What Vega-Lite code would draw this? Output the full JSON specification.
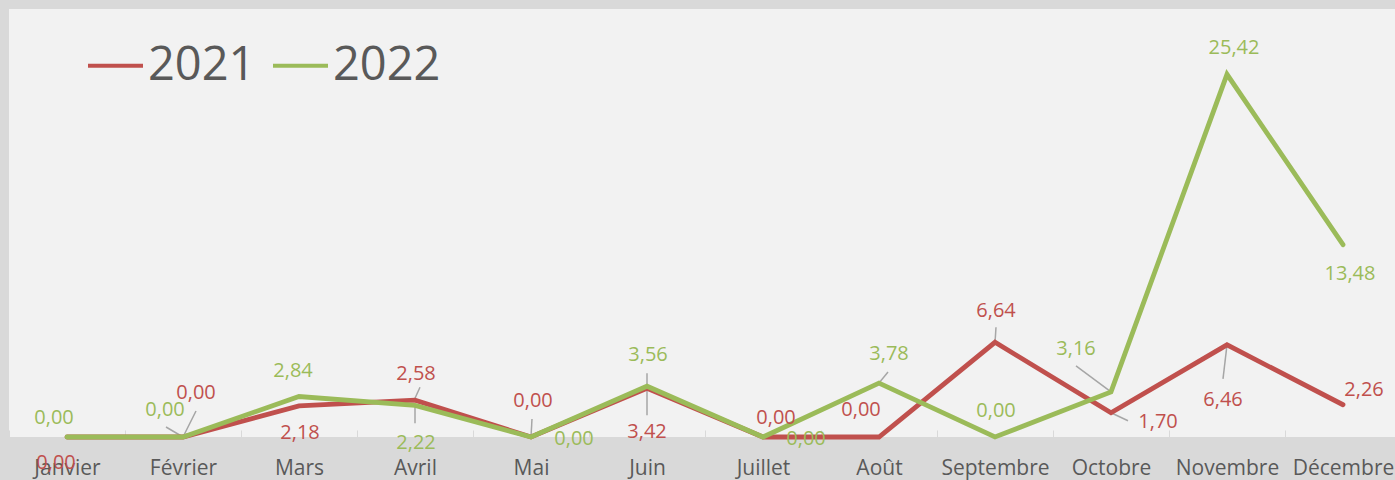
{
 "$schema": "https://vega.github.io/schema/vega-lite/v6.json",
 "width": 1392, "height": 428,
 "autosize": {"type": "none"},
 "padding": {"left": 9, "top": 9, "right": 0, "bottom": 43},
 "background": "#d9d9d9",
 "config": {
  "view": {"stroke": null, "fill": "#f2f2f2"},
  "locale": {"number": {"decimal": ",", "thousands": " ", "grouping": [3], "currency": ["", " €"]}}
 },
 "data": {"values": [
  {"m": "Janvier", "s": "2021", "v": 0}, {"m": "Février", "s": "2021", "v": 0},
  {"m": "Mars", "s": "2021", "v": 2.18}, {"m": "Avril", "s": "2021", "v": 2.58},
  {"m": "Mai", "s": "2021", "v": 0}, {"m": "Juin", "s": "2021", "v": 3.42},
  {"m": "Juillet", "s": "2021", "v": 0}, {"m": "Août", "s": "2021", "v": 0},
  {"m": "Septembre", "s": "2021", "v": 6.64}, {"m": "Octobre", "s": "2021", "v": 1.70},
  {"m": "Novembre", "s": "2021", "v": 6.46}, {"m": "Décembre", "s": "2021", "v": 2.26},
  {"m": "Janvier", "s": "2022", "v": 0}, {"m": "Février", "s": "2022", "v": 0},
  {"m": "Mars", "s": "2022", "v": 2.84}, {"m": "Avril", "s": "2022", "v": 2.22},
  {"m": "Mai", "s": "2022", "v": 0}, {"m": "Juin", "s": "2022", "v": 3.56},
  {"m": "Juillet", "s": "2022", "v": 0}, {"m": "Août", "s": "2022", "v": 3.78},
  {"m": "Septembre", "s": "2022", "v": 0}, {"m": "Octobre", "s": "2022", "v": 3.16},
  {"m": "Novembre", "s": "2022", "v": 25.42}, {"m": "Décembre", "s": "2022", "v": 13.48}
 ]},
 "encoding": {
  "x": {"field": "m", "type": "ordinal",
   "sort": ["Janvier","Février","Mars","Avril","Mai","Juin","Juillet","Août","Septembre","Octobre","Novembre","Décembre"],
   "scale": {"type": "band", "paddingInner": 0, "paddingOuter": 0},
   "axis": {"title": null, "domain": false, "tickBand": "extent", "tickColor": "#d9d9d9", "tickSize": -7, "tickWidth": 1,
    "labelAngle": 0, "labelFont": "Open Sans", "labelFontSize": 21, "labelColor": "#595959", "labelPadding": 27}},
  "y": {"field": "v", "type": "quantitative", "scale": {"domain": [0, 30], "nice": false}, "axis": null},
  "color": {"field": "s", "type": "nominal",
   "scale": {"domain": ["2021", "2022"], "range": ["#c0504d", "#9bbb59"]},
   "legend": {"orient": "none", "legendX": 77, "legendY": 27, "direction": "horizontal", "title": null,
    "symbolType": "stroke", "symbolSize": 3025, "symbolStrokeWidth": 4, "labelFont": "Open Sans",
    "labelFontSize": 47, "labelColor": "#595959", "columnPadding": 9, "labelOffset": 3}}
 },
 "layer": [
  {"mark": {"type": "rule", "strokeWidth": 1.5, "x2Offset": 13, "y2Offset": -26}, "transform": [{"filter": "datum.s=='2021' && datum.m=='Février'"}], "encoding": {"x2": {"field": "m"}, "y2": {"field": "v"}, "color": {"value": "#a6a6a6"}}},
  {"mark": {"type": "rule", "strokeWidth": 1.5, "x2Offset": -17, "y2Offset": -10}, "transform": [{"filter": "datum.s=='2022' && datum.m=='Février'"}], "encoding": {"x2": {"field": "m"}, "y2": {"field": "v"}, "color": {"value": "#a6a6a6"}}},
  {"mark": {"type": "rule", "strokeWidth": 1.5, "yOffset": -2, "x2Offset": 5, "y2Offset": -13}, "transform": [{"filter": "datum.s=='2021' && datum.m=='Avril'"}], "encoding": {"x2": {"field": "m"}, "y2": {"field": "v"}, "color": {"value": "#a6a6a6"}}},
  {"mark": {"type": "rule", "strokeWidth": 1.5, "x2Offset": 0, "y2Offset": 18}, "transform": [{"filter": "datum.s=='2022' && datum.m=='Avril'"}], "encoding": {"x2": {"field": "m"}, "y2": {"field": "v"}, "color": {"value": "#a6a6a6"}}},
  {"mark": {"type": "rule", "strokeWidth": 1.5, "x2Offset": 1, "y2Offset": -18}, "transform": [{"filter": "datum.s=='2021' && datum.m=='Mai'"}], "encoding": {"x2": {"field": "m"}, "y2": {"field": "v"}, "color": {"value": "#a6a6a6"}}},
  {"mark": {"type": "rule", "strokeWidth": 1.5, "x2Offset": 0, "y2Offset": 27}, "transform": [{"filter": "datum.s=='2021' && datum.m=='Juin'"}], "encoding": {"x2": {"field": "m"}, "y2": {"field": "v"}, "color": {"value": "#a6a6a6"}}},
  {"mark": {"type": "rule", "strokeWidth": 1.5, "x2Offset": 0, "y2Offset": -13}, "transform": [{"filter": "datum.s=='2022' && datum.m=='Juin'"}], "encoding": {"x2": {"field": "m"}, "y2": {"field": "v"}, "color": {"value": "#a6a6a6"}}},
  {"mark": {"type": "rule", "strokeWidth": 1.5, "x2Offset": 9, "y2Offset": -11}, "transform": [{"filter": "datum.s=='2022' && datum.m=='Août'"}], "encoding": {"x2": {"field": "m"}, "y2": {"field": "v"}, "color": {"value": "#a6a6a6"}}},
  {"mark": {"type": "rule", "strokeWidth": 1.5, "x2Offset": 1, "y2Offset": -15}, "transform": [{"filter": "datum.s=='2021' && datum.m=='Septembre'"}], "encoding": {"x2": {"field": "m"}, "y2": {"field": "v"}, "color": {"value": "#a6a6a6"}}},
  {"mark": {"type": "rule", "strokeWidth": 1.5, "x2Offset": -35, "y2Offset": -26}, "transform": [{"filter": "datum.s=='2022' && datum.m=='Octobre'"}], "encoding": {"x2": {"field": "m"}, "y2": {"field": "v"}, "color": {"value": "#a6a6a6"}}},
  {"mark": {"type": "rule", "strokeWidth": 1.5, "x2Offset": 17, "y2Offset": 8}, "transform": [{"filter": "datum.s=='2021' && datum.m=='Octobre'"}], "encoding": {"x2": {"field": "m"}, "y2": {"field": "v"}, "color": {"value": "#a6a6a6"}}},
  {"mark": {"type": "rule", "strokeWidth": 1.5, "x2Offset": -4, "y2Offset": 34}, "transform": [{"filter": "datum.s=='2021' && datum.m=='Novembre'"}], "encoding": {"x2": {"field": "m"}, "y2": {"field": "v"}, "color": {"value": "#a6a6a6"}}},
  {"mark": {"type": "line", "strokeWidth": 4.8, "strokeCap": "round"}},
  {"mark": {"type": "text", "dx": 1, "dy": -26, "baseline": "middle", "font": "Open Sans", "fontSize": 20}, "transform": [{"filter": "(datum.s=='2021' && datum.m=='Avril') || (datum.s=='2022' && datum.m=='Septembre')"}], "encoding": {"text": {"field": "v", "type": "quantitative", "format": ".2f"}}},
  {"mark": {"type": "text", "dx": 1, "dy": -31, "baseline": "middle", "font": "Open Sans", "fontSize": 20}, "transform": [{"filter": "(datum.s=='2021' && datum.m=='Septembre') || (datum.s=='2022' && datum.m=='Juin')"}], "encoding": {"text": {"field": "v", "type": "quantitative", "format": ".2f"}}},
  {"mark": {"type": "text", "dx": 1, "dy": 38, "baseline": "middle", "font": "Open Sans", "fontSize": 20}, "transform": [{"filter": "datum.s=='2022' && datum.m=='Avril'"}], "encoding": {"text": {"field": "v", "type": "quantitative", "format": ".2f"}}},
  {"mark": {"type": "text", "dx": 0, "dy": 44, "baseline": "middle", "font": "Open Sans", "fontSize": 20}, "transform": [{"filter": "datum.s=='2021' && datum.m=='Juin'"}], "encoding": {"text": {"field": "v", "type": "quantitative", "format": ".2f"}}},
  {"mark": {"type": "text", "dx": 1, "dy": 27, "baseline": "middle", "font": "Open Sans", "fontSize": 20}, "transform": [{"filter": "datum.s=='2021' && datum.m=='Mars'"}], "encoding": {"text": {"field": "v", "type": "quantitative", "format": ".2f"}}},
  {"mark": {"type": "text", "dx": 2, "dy": -36, "baseline": "middle", "font": "Open Sans", "fontSize": 20}, "transform": [{"filter": "datum.s=='2021' && datum.m=='Mai'"}], "encoding": {"text": {"field": "v", "type": "quantitative", "format": ".2f"}}},
  {"mark": {"type": "text", "dx": 43, "dy": 2, "baseline": "middle", "font": "Open Sans", "fontSize": 20}, "transform": [{"filter": "datum.s=='2022' && (datum.m=='Mai' || datum.m=='Juillet')"}], "encoding": {"text": {"field": "v", "type": "quantitative", "format": ".2f"}}},
  {"mark": {"type": "text", "dx": 13, "dy": -19, "baseline": "middle", "font": "Open Sans", "fontSize": 20}, "transform": [{"filter": "datum.s=='2021' && datum.m=='Juillet'"}], "encoding": {"text": {"field": "v", "type": "quantitative", "format": ".2f"}}},
  {"mark": {"type": "text", "dx": -13, "dy": -19, "baseline": "middle", "font": "Open Sans", "fontSize": 20}, "transform": [{"filter": "datum.s=='2022' && datum.m=='Janvier'"}], "encoding": {"text": {"field": "v", "type": "quantitative", "format": ".2f"}}},
  {"mark": {"type": "text", "dx": -11, "dy": 26, "baseline": "middle", "font": "Open Sans", "fontSize": 20}, "transform": [{"filter": "datum.s=='2021' && datum.m=='Janvier'"}], "encoding": {"text": {"field": "v", "type": "quantitative", "format": ".2f"}}},
  {"mark": {"type": "text", "dx": -18, "dy": -27, "baseline": "middle", "font": "Open Sans", "fontSize": 20}, "transform": [{"filter": "(datum.s=='2022' && datum.m=='Février') || (datum.s=='2021' && datum.m=='Août')"}], "encoding": {"text": {"field": "v", "type": "quantitative", "format": ".2f"}}},
  {"mark": {"type": "text", "dx": 13, "dy": -44, "baseline": "middle", "font": "Open Sans", "fontSize": 20}, "transform": [{"filter": "datum.s=='2021' && datum.m=='Février'"}], "encoding": {"text": {"field": "v", "type": "quantitative", "format": ".2f"}}},
  {"mark": {"type": "text", "dx": -6, "dy": -25, "baseline": "middle", "font": "Open Sans", "fontSize": 20}, "transform": [{"filter": "datum.s=='2022' && datum.m=='Mars'"}], "encoding": {"text": {"field": "v", "type": "quantitative", "format": ".2f"}}},
  {"mark": {"type": "text", "dx": 10, "dy": -29, "baseline": "middle", "font": "Open Sans", "fontSize": 20}, "transform": [{"filter": "datum.s=='2022' && datum.m=='Août'"}], "encoding": {"text": {"field": "v", "type": "quantitative", "format": ".2f"}}},
  {"mark": {"type": "text", "dx": -35, "dy": -43, "baseline": "middle", "font": "Open Sans", "fontSize": 20}, "transform": [{"filter": "datum.s=='2022' && datum.m=='Octobre'"}], "encoding": {"text": {"field": "v", "type": "quantitative", "format": ".2f"}}},
  {"mark": {"type": "text", "dx": 47, "dy": 9, "baseline": "middle", "font": "Open Sans", "fontSize": 20}, "transform": [{"filter": "datum.s=='2021' && datum.m=='Octobre'"}], "encoding": {"text": {"field": "v", "type": "quantitative", "format": ".2f"}}},
  {"mark": {"type": "text", "dx": -4, "dy": 55, "baseline": "middle", "font": "Open Sans", "fontSize": 20}, "transform": [{"filter": "datum.s=='2021' && datum.m=='Novembre'"}], "encoding": {"text": {"field": "v", "type": "quantitative", "format": ".2f"}}},
  {"mark": {"type": "text", "dx": 21, "dy": -15, "baseline": "middle", "font": "Open Sans", "fontSize": 20}, "transform": [{"filter": "datum.s=='2021' && datum.m=='Décembre'"}], "encoding": {"text": {"field": "v", "type": "quantitative", "format": ".2f"}}},
  {"mark": {"type": "text", "dx": 7, "dy": -26, "baseline": "middle", "font": "Open Sans", "fontSize": 20}, "transform": [{"filter": "datum.s=='2022' && datum.m=='Novembre'"}], "encoding": {"text": {"field": "v", "type": "quantitative", "format": ".2f"}}},
  {"mark": {"type": "text", "dx": 7, "dy": 29, "baseline": "middle", "font": "Open Sans", "fontSize": 20}, "transform": [{"filter": "datum.s=='2022' && datum.m=='Décembre'"}], "encoding": {"text": {"field": "v", "type": "quantitative", "format": ".2f"}}}
 ]
}
